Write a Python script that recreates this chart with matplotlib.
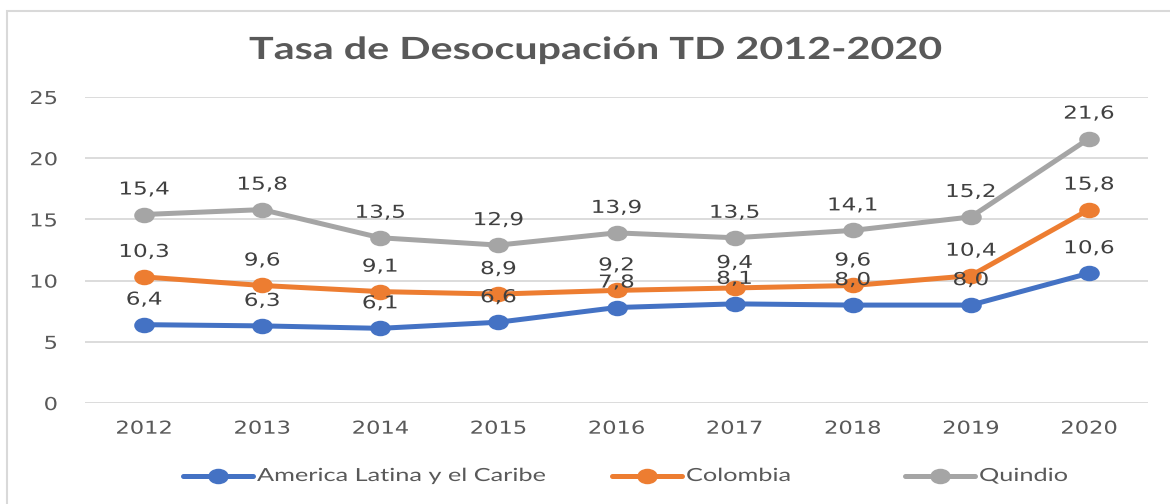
import matplotlib
matplotlib.use("Agg")
import matplotlib.pyplot as plt
from matplotlib.patches import Rectangle
from matplotlib.lines import Line2D
from matplotlib.path import Path
from matplotlib.transforms import Affine2D, ScaledTranslation
from matplotlib.patheffects import AbstractPathEffect

years = ["2012", "2013", "2014", "2015", "2016", "2017", "2018", "2019", "2020"]
america = [6.4, 6.3, 6.1, 6.6, 7.8, 8.1, 8.0, 8.0, 10.6]
colombia = [10.3, 9.6, 9.1, 8.9, 9.2, 9.4, 9.6, 10.4, 15.8]
quindio = [15.4, 15.8, 13.5, 12.9, 13.9, 13.5, 14.1, 15.2, 21.6]
series_names = ["America Latina y el Caribe", "Colombia", "Quindio"]
colors = ["#4472C4", "#ED7D31", "#A5A5A5"]
title = "Tasa de Desocupación TD 2012-2020"

W, H = 1170, 504


class HStretch(AbstractPathEffect):
    """Stretch a text horizontally about its anchor point."""
    def __init__(self, text, sx):
        super().__init__()
        self.text = text
        self.sx = sx

    def draw_path(self, renderer, gc, tpath, affine, rgbFace=None):
        cx = self.text.get_transform().transform(self.text.get_unitless_position())[0]
        a = affine + Affine2D().translate(-cx, 0).scale(self.sx, 1).translate(cx, 0)
        renderer.draw_path(gc, tpath, a, rgbFace)


def stretch(t, sx):
    t.set_path_effects([HStretch(t, sx)])
    return t


# elliptical marker (chart is horizontally stretched)
ell = Path.unit_circle().transformed(Affine2D().scale(1.36, 1.0))

fig = plt.figure(figsize=(W / 100, H / 100), dpi=100)
fig.patch.set_facecolor("white")
fig.patches.append(Rectangle((7 / W, -0.05), 1.1, (H - 11) / H + 0.05,
                             transform=fig.transFigure, fill=False,
                             edgecolor="#D9D9D9", linewidth=1.5))

ax = fig.add_axes([85 / W, (H - 403) / H, (1148 - 85) / W, (403 - 97) / H])
x = list(range(len(years)))
label_off = ax.transData + ScaledTranslation(0, 14.4 / 72, fig.dpi_scale_trans)
for vals, name, c in zip([america, colombia, quindio], series_names, colors):
    ax.plot(x, vals, color=c, linewidth=3.6, marker=ell, markersize=13.8,
            label=name, solid_capstyle="round", zorder=3)
    for xi, v in zip(x, vals):
        t = ax.text(xi, v, f"{v:.1f}".replace(".", ","), transform=label_off,
                    ha="center", va="baseline", fontsize=12.8, color="#404040",
                    family="DejaVu Sans", zorder=4)
        stretch(t, 1.3)

ax.set_xlim(-0.5, len(years) - 0.5)
ax.set_ylim(0, 25)
ax.set_yticks([0, 5, 10, 15, 20, 25])
ax.set_xticks(x)
ax.set_xticklabels(years)
ax.tick_params(axis="both", length=0, labelsize=12.8, colors="#595959")
ax.tick_params(axis="y", pad=19.5)
ax.tick_params(axis="x", pad=12)
for t in ax.get_xticklabels() + ax.get_yticklabels():
    stretch(t, 1.27)
for s in ax.spines.values():
    s.set_visible(False)
ax.grid(axis="y", color="#D9D9D9", linewidth=1.3, zorder=0)
ax.set_axisbelow(True)

tt = fig.text(595 / W, (H - 50) / H, title, ha="center", va="center",
              fontsize=22, fontweight="bold", color="#595959", family="Lato")
stretch(tt, 1.35)

# manual legend (text stretched like the rest of the chart)
legend_x = [183, 612, 905]
legend_y = (H - 476) / H
handle_len = 70
for lx, name, c in zip(legend_x, series_names, colors):
    fig.add_artist(Line2D([lx / W, (lx + handle_len / 2) / W, (lx + handle_len) / W],
                          [legend_y] * 3, transform=fig.transFigure, color=c,
                          linewidth=3.6, marker=ell, markersize=13.8, markevery=[1],
                          solid_capstyle="round"))
    lt = fig.text((lx + handle_len + 4) / W, legend_y, name, ha="left", va="center",
                  fontsize=13, color="#595959", family="Lato")
    stretch(lt, 1.4)

fig.savefig("out.png", dpi=100)
